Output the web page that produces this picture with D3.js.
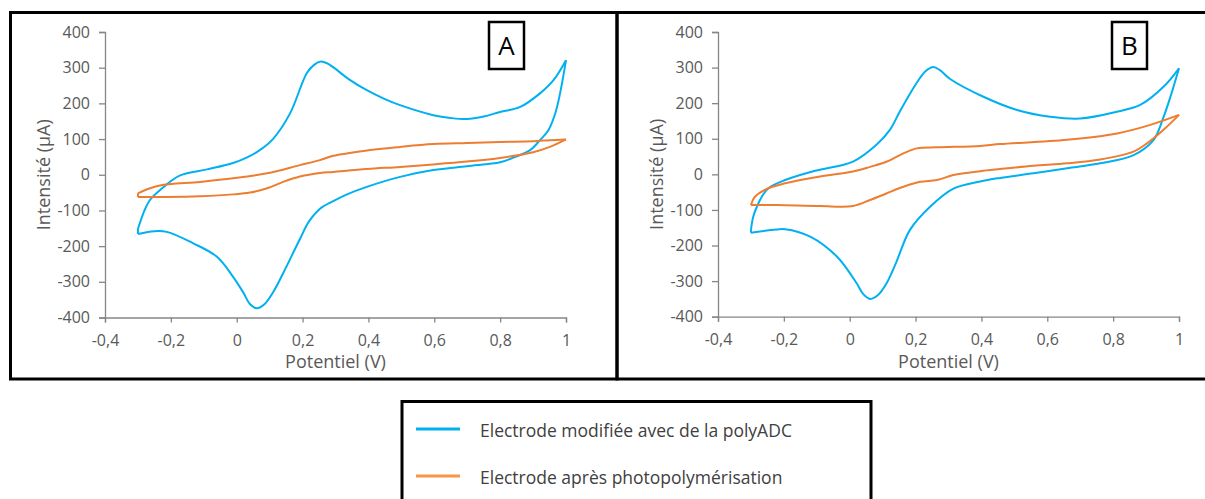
<!DOCTYPE html>
<html>
<head>
<meta charset="utf-8">
<script src="https://cdn.jsdelivr.net/npm/d3@7"></script>
<style>
  html, body { margin: 0; padding: 0; background: #fff; }
  svg { display: block; }
  text { font-family: "Open Sans", "Noto Sans", sans-serif; }
</style>
</head>
<body>
<svg id="chart" width="1205" height="499"></svg>
<script>
// ---------- data ----------
const seriesNames = ["Electrode modifiée avec de la polyADC", "Electrode après photopolymérisation"];
const panelLabels = ["A", "B"];
const xTicks = [-0.4, -0.2, 0, 0.2, 0.4, 0.6, 0.8, 1];
const xTickLabels = ["-0,4", "-0,2", "0", "0,2", "0,4", "0,6", "0,8", "1"];
const yTicks = [400, 300, 200, 100, 0, -100, -200, -300, -400];
const yTickLabels = ["400", "300", "200", "100", "0", "-100", "-200", "-300", "-400"];
const xTitle = "Potentiel (V)";
const yTitle = "Intensité (µA)";

// Panel A — blue (polyADC): forward (anodic) scan and reverse (cathodic) scan
const blueA_fwd = [[-0.3,-152],[-0.28,-100],[-0.263,-70],[-0.233,-43],[-0.172,-2],[-0.09,15],[-0.011,33],[0.03,48],[0.07,69],[0.11,100],[0.162,172],[0.213,285],[0.235,308],[0.256,317],[0.275,312],[0.295,300],[0.34,268],[0.395,237],[0.45,212],[0.496,195],[0.597,167],[0.65,159],[0.699,156],[0.75,163],[0.8,176],[0.861,190],[0.921,228],[0.962,265],[1.0,321]];
const blueA_rev = [[1.0,321],[0.982,228],[0.967,171],[0.946,124],[0.921,97],[0.891,69],[0.84,48],[0.8,35],[0.699,24],[0.597,13],[0.496,-6],[0.395,-34],[0.335,-55],[0.293,-74],[0.253,-95],[0.22,-130],[0.192,-180],[0.141,-276],[0.11,-330],[0.085,-362],[0.061,-374],[0.04,-362],[0.02,-330],[-0.011,-286],[-0.06,-230],[-0.132,-192],[-0.212,-160],[-0.25,-158],[-0.3,-166]];
const blueA_close = [[-0.3,-166],[-0.3,-152]];

// Panel A — orange (after photopolymerisation)
const orangeA_fwd = [[-0.3,-52],[-0.27,-40],[-0.233,-30],[-0.111,-20],[-0.011,-10],[0.092,4],[0.192,27],[0.253,41],[0.293,53],[0.395,68],[0.496,78],[0.597,86],[0.699,89],[0.8,92],[0.9,94],[0.951,97],[1.0,99]];
const orangeA_rev = [[1.0,99],[0.951,78],[0.9,63],[0.8,47],[0.699,37],[0.597,29],[0.496,22],[0.395,16],[0.293,8],[0.253,5],[0.192,-5],[0.141,-20],[0.092,-38],[0.04,-50],[-0.011,-55],[-0.111,-60],[-0.212,-62],[-0.3,-62]];
const orangeA_close = [[-0.3,-62],[-0.3,-52]];

// Panel B — blue (polyADC)
const blueB_fwd = [[-0.3,-156],[-0.293,-119],[-0.282,-91],[-0.267,-63],[-0.247,-39],[-0.196,-16],[-0.105,10],[0.01,36],[0.082,84],[0.122,125],[0.153,178],[0.204,258],[0.23,290],[0.254,302],[0.275,292],[0.305,268],[0.406,218],[0.508,181],[0.609,162],[0.7,157],[0.811,176],[0.882,195],[0.953,246],[1.0,298]];
const blueB_rev = [[1.0,298],[0.974,218],[0.953,161],[0.923,97],[0.862,54],[0.761,31],[0.66,17],[0.558,3],[0.457,-10],[0.396,-20],[0.315,-40],[0.244,-91],[0.183,-156],[0.14,-250],[0.112,-306],[0.085,-340],[0.062,-350],[0.04,-335],[0.021,-306],[-0.039,-231],[-0.12,-175],[-0.196,-154],[-0.222,-155],[-0.3,-164]];
const blueB_close = [[-0.3,-164],[-0.3,-156]];

// Panel B — orange (after photopolymerisation)
const orangeB_fwd = [[-0.3,-86],[-0.288,-63],[-0.247,-39],[-0.196,-25],[-0.09,-6],[0.01,8],[0.062,21],[0.113,36],[0.163,59],[0.204,73],[0.265,76],[0.396,80],[0.457,85],[0.66,97],[0.812,115],[0.913,139],[1.0,167]];
const orangeB_rev = [[1.0,167],[0.953,125],[0.903,87],[0.862,64],[0.761,42],[0.66,31],[0.558,24],[0.457,15],[0.396,9],[0.315,-2],[0.265,-16],[0.214,-21],[0.163,-35],[0.113,-53],[0.062,-72],[0.01,-89],[-0.09,-89],[-0.222,-86],[-0.3,-86]];

const colors = ["#00B0F0", "#ED7D31"];
const legendColors = ["#00B0F0", "#F79646"];

// ---------- drawing ----------
const svg = d3.select("#chart");

const panels = [
  { frame: [10.5, 12.5, 606.5, 366.5], plot: [105, 566, 317.5, 32], box: [489, 22, 35, 47],
    series: [[blueA_fwd, blueA_rev, blueA_close], [orangeA_fwd, orangeA_rev, orangeA_close]] },
  { frame: [617, 12.5, 600, 366.5], plot: [718, 1179, 316.7, 32], box: [1112, 22, 35, 47],
    series: [[blueB_fwd, blueB_rev, blueB_close], [orangeB_fwd, orangeB_rev]] }
];

panels.forEach((p, pi) => {
  const g = svg.append("g");
  g.append("rect")
    .attr("x", p.frame[0]).attr("y", p.frame[1])
    .attr("width", p.frame[2]).attr("height", p.frame[3])
    .attr("fill", "none").attr("stroke", "#000").attr("stroke-width", 3);

  const x = d3.scaleLinear().domain([-0.4, 1]).range([p.plot[0], p.plot[1]]);
  const y = d3.scaleLinear().domain([-400, 400]).range([p.plot[2], p.plot[3]]);

  const yAxis = d3.axisLeft(y).tickValues(yTicks)
    .tickFormat((d, i) => yTickLabels[i]).tickSizeOuter(0).tickSize(6).tickPadding(9);
  const ya = g.append("g").attr("transform", `translate(${p.plot[0]},0)`).call(yAxis);
  const xAxis = d3.axisBottom(x).tickValues(xTicks)
    .tickFormat((d, i) => xTickLabels[i]).tickSizeOuter(0).tickSize(5).tickPadding(12);
  const xa = g.append("g").attr("transform", `translate(0,${p.plot[2]})`).call(xAxis);

  [ya, xa].forEach(a => {
    a.select(".domain").attr("stroke", "#868686").attr("stroke-width", 1.3);
    a.selectAll(".tick line").attr("stroke", "#868686").attr("stroke-width", 1.3);
    a.selectAll(".tick text").attr("fill", "#595959").style("font-size", "16px")
      .style("font-family", "'Open Sans', sans-serif");
  });

  g.append("text")
    .attr("x", (p.plot[0] + p.plot[1]) / 2).attr("y", 368)
    .attr("text-anchor", "middle").attr("fill", "#595959")
    .style("font-size", "18px").text(xTitle);
  g.append("text")
    .attr("transform", `translate(${p.plot[0] - 55},${(p.plot[2] + p.plot[3]) / 2}) rotate(-90)`)
    .attr("text-anchor", "middle").attr("fill", "#595959")
    .style("font-size", "18px").text(yTitle);

  const line = d3.line().x(d => x(d[0])).y(d => y(d[1])).curve(d3.curveCatmullRom.alpha(0.5));
  p.series.forEach((segs, si) => {
    segs.forEach(seg => {
      g.append("path").datum(seg)
        .attr("d", line)
        .attr("fill", "none").attr("stroke", colors[si]).attr("stroke-width", 2)
        .attr("stroke-linejoin", "round");
    });
  });

  g.append("rect")
    .attr("x", p.box[0]).attr("y", p.box[1]).attr("width", p.box[2]).attr("height", p.box[3])
    .attr("fill", "#fff").attr("stroke", "#000").attr("stroke-width", 2.5);
  g.append("text")
    .attr("x", p.box[0] + p.box[2] / 2).attr("y", p.box[1] + 33)
    .attr("text-anchor", "middle").attr("fill", "#000")
    .style("font-size", "26px").text(panelLabels[pi]);
});

// legend
const lg = svg.append("g");
lg.append("rect").attr("x", 402).attr("y", 401.5).attr("width", 469).attr("height", 110)
  .attr("fill", "none").attr("stroke", "#000").attr("stroke-width", 3);
seriesNames.forEach((name, i) => {
  const cy = 429 + i * 47;
  lg.append("line").attr("x1", 416).attr("x2", 460).attr("y1", cy).attr("y2", cy)
    .attr("stroke", legendColors[i]).attr("stroke-width", 3);
  lg.append("text").attr("x", 480).attr("y", cy + 7.5).attr("fill", "#404040")
    .style("font-size", "17.5px").text(name);
});
</script>
</body>
</html>
